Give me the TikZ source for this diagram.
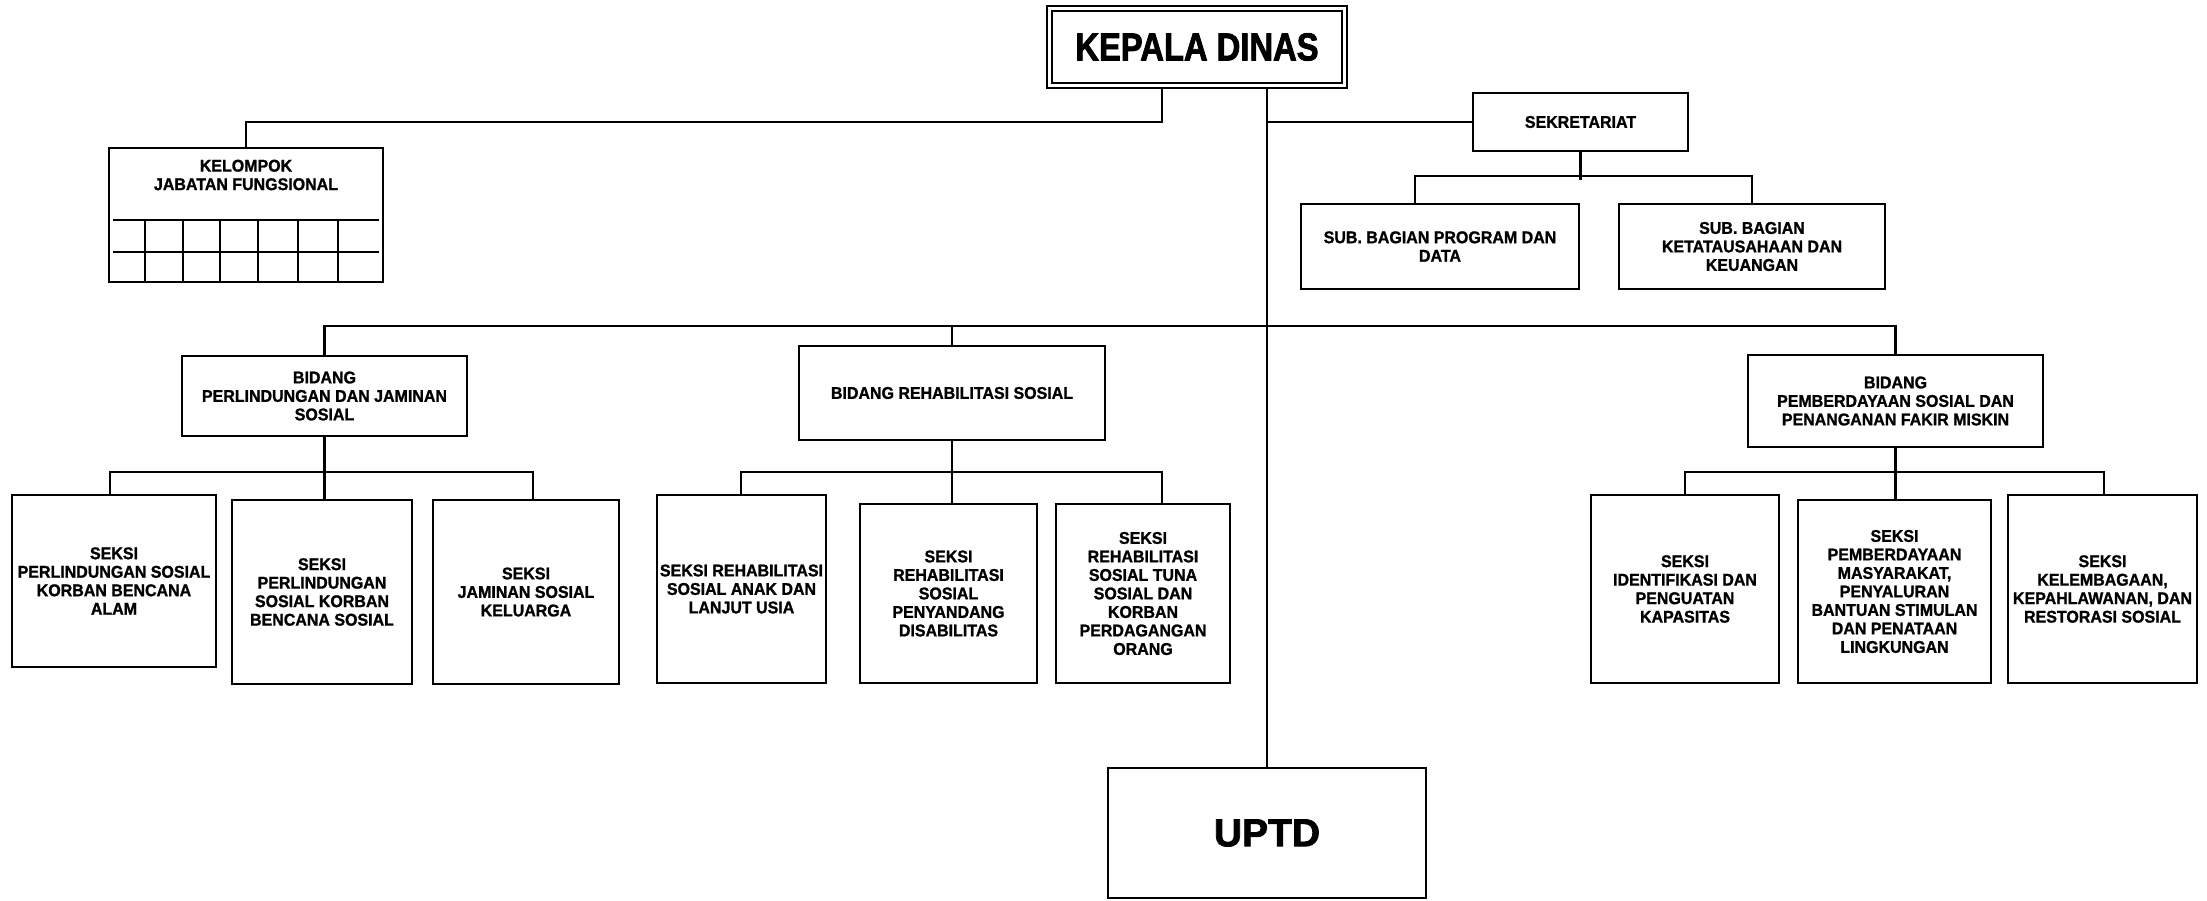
\documentclass[tikz,border=0pt]{standalone}
\usepackage{fontspec}
\newfontfamily\lblfont{Liberation Sans}[FakeStretch=0.94, FakeBold=1.2]
\newfontfamily\headfont{Liberation Sans}[FakeStretch=0.84, FakeBold=2]
\newfontfamily\bigfont{Liberation Sans}[FakeBold=2]
\begin{document}
\begin{tikzpicture}[x=1pt,y=-1pt,
  every node/.style={inner sep=0pt, outer sep=0pt},
  box/.style={draw, line width=2.2pt, fill=white, align=center,
    font=\lblfont\bfseries\fontsize{17}{18.5}\selectfont},
  lbl/.style={align=center, font=\lblfont\bfseries\fontsize{17}{18.5}\selectfont},
  conn/.style={line width=2.4pt, line join=miter},
  grid/.style={line width=2pt}]
\useasboundingbox (0,0) rectangle (2207,900);

% ---- top level ----
\node[box, minimum width=300, minimum height=82,
      font=\headfont\bfseries\fontsize{39}{42}\selectfont] (kd) at (1197,47) {KEPALA DINAS};
\draw[line width=1.3pt] ([shift={(5,5)}]kd.north west) rectangle ([shift={(-5,-5)}]kd.south east);

\node[box, minimum width=318, minimum height=130,
      font=\bigfont\bfseries\fontsize{39}{42}\selectfont] (uptd) at (1267,833) {UPTD};

% ---- functional group with its grid ----
\node[box, minimum width=274, minimum height=134] (kjf) at (246,215) {};
\node[lbl] (kjft) at (246,175) {KELOMPOK\\JABATAN FUNGSIONAL};
\draw[grid] (113,220) -- (379,220);
\draw[grid] (113,252) -- (379,252);
\foreach \gx in {145,183,220,258,298,338}
  \draw[grid] (\gx,220) -- (\gx,282);

% ---- secretariat ----
\node[box, minimum width=215, minimum height=58] (sek) at (1580.5,122) {SEKRETARIAT};
\node[box, minimum width=278, minimum height=85] (sbp) at (1440,246.5) {SUB. BAGIAN PROGRAM DAN\\DATA};
\node[box, minimum width=266, minimum height=85] (sbk) at (1752,246.5) {SUB. BAGIAN\\KETATAUSAHAAN DAN\\KEUANGAN};

% ---- divisions ----
\node[box, minimum width=285, minimum height=80] (bpj) at (324.5,396) {BIDANG\\PERLINDUNGAN DAN JAMINAN\\SOSIAL};
\node[box, minimum width=306, minimum height=94] (brs) at (952,393) {BIDANG REHABILITASI SOSIAL};
\node[box, minimum width=295, minimum height=92] (bps) at (1895.5,401) {BIDANG\\PEMBERDAYAAN SOSIAL DAN\\PENANGANAN FAKIR MISKIN};

% ---- sections ----
\node[box, minimum width=204, minimum height=172] (s11) at (114,581) {SEKSI\\PERLINDUNGAN SOSIAL\\KORBAN BENCANA\\ALAM};
\node[box, minimum width=180, minimum height=184] (s12) at (322,592) {SEKSI\\PERLINDUNGAN\\SOSIAL KORBAN\\BENCANA SOSIAL};
\node[box, minimum width=186, minimum height=184] (s13) at (526,592) {SEKSI\\JAMINAN SOSIAL\\KELUARGA};

\node[box, minimum width=169, minimum height=188] (s21) at (741.5,589) {SEKSI REHABILITASI\\SOSIAL ANAK DAN\\LANJUT USIA};
\node[box, minimum width=177, minimum height=179] (s22) at (948.5,593.5) {SEKSI\\REHABILITASI\\SOSIAL\\PENYANDANG\\DISABILITAS};
\node[box, minimum width=174, minimum height=179] (s23) at (1143,593.5) {SEKSI\\REHABILITASI\\SOSIAL TUNA\\SOSIAL DAN\\KORBAN\\PERDAGANGAN\\ORANG};

\node[box, minimum width=188, minimum height=188] (s31) at (1685,589) {SEKSI\\IDENTIFIKASI DAN\\PENGUATAN\\KAPASITAS};
\node[box, minimum width=193, minimum height=183] (s32) at (1894.5,591.5) {SEKSI\\PEMBERDAYAAN\\MASYARAKAT,\\PENYALURAN\\BANTUAN STIMULAN\\DAN PENATAAN\\LINGKUNGAN};
\node[box, minimum width=189, minimum height=188] (s33) at (2102.5,589) {SEKSI\\KELEMBAGAAN,\\KEPAHLAWANAN, DAN\\RESTORASI SOSIAL};

% ---- bus levels and drop points ----
\coordinate (yTop) at (0,122);
\coordinate (ySub) at (0,176);
\coordinate (ySubEnd) at (0,180);
\coordinate (yBid) at (0,326);
\coordinate (ySek) at (0,472);
\coordinate (kdL) at (1162,0);
\coordinate (cSbp) at (1415,0);
\coordinate (c11) at (110,0);
\coordinate (c13) at (533,0);
\coordinate (c21) at (741,0);
\coordinate (c23) at (1162,0);
\coordinate (c31) at (1685,0);
\coordinate (c33) at (2104,0);

% ---- connectors ----
\draw[conn] (kdL |- kd.south) -- (kdL |- yTop) -- (kjf.north |- yTop) -- (kjf.north);
\draw[conn] (uptd.north |- kd.south) -- (uptd.north);
\draw[conn] (uptd.north |- sek.west) -- (sek.west);

\draw[conn] (sek.south) -- (sek.south |- ySubEnd);
\draw[conn] (cSbp |- sbp.north) -- (cSbp |- ySub) -- (sbk.north |- ySub) -- (sbk.north);

\draw[conn] (bpj.north) -- (bpj.north |- yBid) -- (bps.north |- yBid) -- (bps.north);
\draw[conn] (brs.north) -- (brs.north |- yBid);

\draw[conn] (bpj.south) -- (bpj.south |- s12.north);
\draw[conn] (c11 |- s11.north) -- (c11 |- ySek) -- (c13 |- ySek) -- (c13 |- s13.north);

\draw[conn] (brs.south) -- (brs.south |- s22.north);
\draw[conn] (c21 |- s21.north) -- (c21 |- ySek) -- (c23 |- ySek) -- (c23 |- s23.north);

\draw[conn] (bps.south) -- (bps.south |- s32.north);
\draw[conn] (c31 |- s31.north) -- (c31 |- ySek) -- (c33 |- ySek) -- (c33 |- s33.north);
\end{tikzpicture}
\end{document}
